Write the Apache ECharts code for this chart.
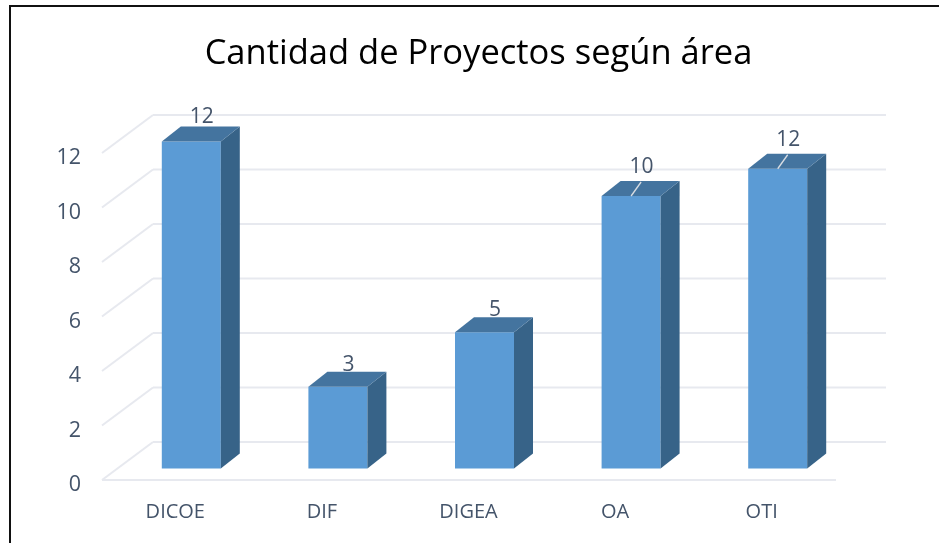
<!DOCTYPE html>
<html><head><meta charset="utf-8">
<style>html,body{margin:0;padding:0;background:#fff}#c{width:939px;height:543px}</style>
<script src="https://cdn.jsdelivr.net/npm/echarts@6/dist/echarts.min.js"></script>
</head><body><div id="c"></div>
<script>
const titleText = 'Cantidad de Proyectos según área';
const categories = ['DICOE','DIF','DIGEA','OA','OTI'];
const barValues = [12,3,5,10,11];
const labelValues = [12,3,5,10,12];
const hasLeader = [false,false,false,true,true];
const yTicks = [0,2,4,6,8,10,12];

const FONT = '"Open Sans","Noto Sans",sans-serif';
const TEXT = '#44546a', GRID = '#e7e9ef';
const WALL_DX = 51, WALL_DY = -38;
const chart = echarts.init(document.getElementById('c'), null, {renderer:'canvas'});

function renderGrid(params, api){
  const v = api.value(0), p = api.coord([0, v]);
  const left = params.coordSys.x, right = left + params.coordSys.width;
  const style = {stroke: GRID, lineWidth: 2, fill: null};
  const ch = [
    {type:'line', shape:{x1:left,y1:p[1],x2:left+WALL_DX,y2:p[1]+WALL_DY}, style},
    {type:'line', shape:{x1:left+WALL_DX,y1:p[1]+WALL_DY,x2:right+WALL_DX,y2:p[1]+WALL_DY}, style}
  ];
  if (v === 0) ch.push({type:'line', shape:{x1:left,y1:p[1],x2:right+1,y2:p[1]}, style});
  return {type:'group', children: ch};
}
function renderBar(params, api){
  const idx = api.value(0), val = api.value(1);
  const c = api.coord([idx, val]), b = api.coord([idx, 0]);
  const w = 59, dx = 19, dy = -15, ox = 16, oy = -11.5;
  const x0 = c[0] + ox - w/2, x1 = x0 + w, yt = c[1] + oy, yb = b[1] + oy;
  const ch = [
    {type:'rect', shape:{x:x0,y:yt,width:w,height:yb-yt}, style:{fill:'#5b9bd5'}},
    {type:'polygon', shape:{points:[[x1,yt],[x1+dx,yt+dy],[x1+dx,yb+dy],[x1,yb]]}, style:{fill:'#376388'}},
    {type:'polygon', shape:{points:[[x0,yt],[x0+dx,yt+dy],[x1+dx,yt+dy],[x1,yt]]}, style:{fill:'#44749f'}}
  ];
  const lead = hasLeader[idx];
  const tx = x0 + w/2 + 10.5;
  const ty = yt + (lead ? -29 : (val === 12 ? -24 : -22));
  if (lead) ch.push({type:'line', shape:{x1:x0+w/2,y1:yt,x2:x0+w/2+10,y2:yt-14}, style:{stroke:'#d9dde3',lineWidth:1.3}});
  ch.push({type:'text', style:{x:tx,y:ty,text:String(labelValues[idx]),fill:TEXT,font:'21px '+FONT,align:'center',verticalAlign:'middle'}});
  return {type:'group', children: ch};
}

chart.setOption({
  animation:false,
  backgroundColor:'#fff',
  title:{text:titleText,left:473.5,top:32,textAlign:'center',textStyle:{color:'#000',fontFamily:FONT,fontSize:34.5,fontWeight:'normal'}},
  grid:{left:102,width:733,top:153,height:327,containLabel:false},
  xAxis:{type:'category',data:categories,axisLine:{show:false},axisTick:{show:false},
    axisLabel:{color:TEXT,fontFamily:FONT,fontSize:20,margin:22}},
  yAxis:{type:'value',min:0,max:12,interval:2,splitLine:{show:false},axisLine:{show:false},axisTick:{show:false},
    axisLabel:{color:TEXT,fontFamily:FONT,fontSize:21.5,margin:21,verticalAlign:'top',lineHeight:10}},
  series:[
    {type:'custom',renderItem:renderGrid,data:yTicks.map(v=>[v]),encode:{y:0},silent:true,z:1,clip:false},
    {type:'custom',renderItem:renderBar,data:barValues.map((v,i)=>[i,v]),encode:{x:0,y:1},silent:true,z:2,clip:false}
  ],
  graphic:[
    {type:'polyline',shape:{points:[[10,543],[10,6],[939,6]]},style:{stroke:'#111',lineWidth:2,fill:null},z:10}
  ]
});
</script></body></html>
